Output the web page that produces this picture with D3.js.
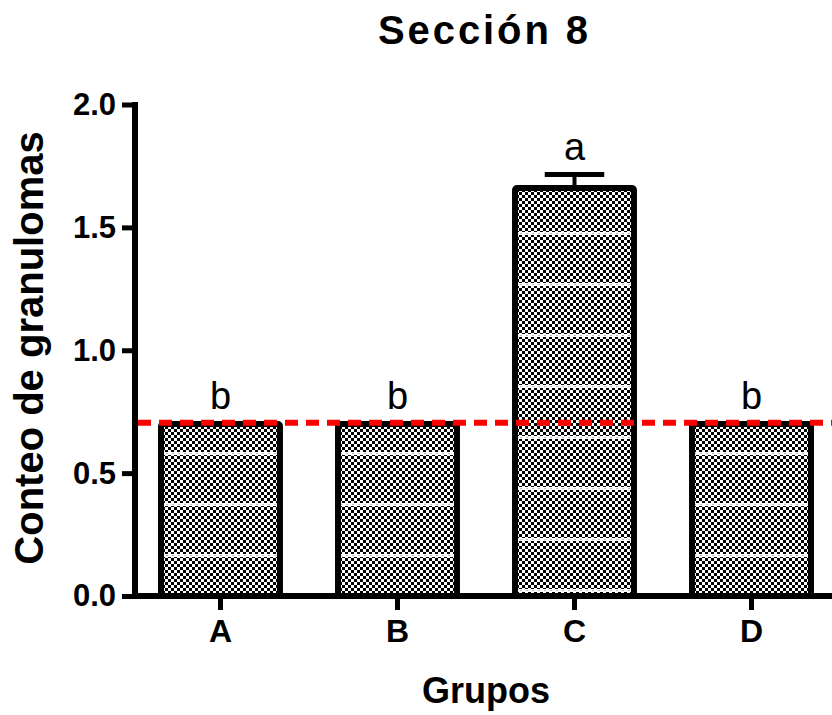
<!DOCTYPE html>
<html>
<head>
<meta charset="utf-8">
<script src="https://cdn.jsdelivr.net/npm/d3@7"></script>
<style>
  html, body { margin: 0; padding: 0; background: #fff; }
  svg { display: block; }
  text { font-family: "Liberation Sans", Arial, sans-serif; fill: #000; }
</style>
</head>
<body>
<svg id="chart" width="832" height="715"></svg>
<script>
// ---- data ----
const groups = ["A", "B", "C", "D"];
const values = [0.70, 0.70, 1.66, 0.70];
const errors = [0, 0, 0.055, 0];
const letters = ["b", "b", "a", "b"];
const yTicks = [0.0, 0.5, 1.0, 1.5, 2.0];
const refLine = [0.705];
const title = ["Sección 8"];
const xLabel = ["Grupos"];
const yLabel = ["Conteo de granulomas"];

// ---- drawing ----
const svg = d3.select("#chart");
const W = 832, H = 715;

const y = d3.scaleLinear().domain([0, 2]).range([596, 104.5]);
const x = d3.scaleBand().domain(groups).range([135, 837])
  .paddingInner(0.328).paddingOuter(0.147);

const defs = svg.append("defs");
// checker pattern
const chk = defs.append("pattern").attr("id", "checker")
  .attr("patternUnits", "userSpaceOnUse").attr("width", 6).attr("height", 6);
chk.append("rect").attr("width", 6).attr("height", 6).attr("fill", "#000");
chk.append("rect").attr("x", 0).attr("y", 0).attr("width", 3).attr("height", 3).attr("fill", "#fff");
chk.append("rect").attr("x", 3).attr("y", 3).attr("width", 3).attr("height", 3).attr("fill", "#fff");

function stripePattern(id, offset) {
  const p = defs.append("pattern").attr("id", id)
    .attr("patternUnits", "userSpaceOnUse").attr("width", 6).attr("height", 51)
    .attr("y", offset);
  p.append("rect").attr("x", 0).attr("y", 0).attr("width", 6).attr("height", 3).attr("fill", "#fff");
  p.append("rect").attr("x", 4).attr("y", 1).attr("width", 2).attr("height", 1).attr("fill", "#bbb");
}
stripePattern("stripesC", 232);
stripePattern("stripesO", 452);

const barG = svg.append("g");
groups.forEach((g, i) => {
  const x0 = x(g), bw = x.bandwidth();
  const y0 = y(values[i]), h = y(0) - y(values[i]);
  barG.append("rect").attr("x", x0).attr("y", y0).attr("width", bw).attr("height", h)
    .attr("fill", "url(#checker)");
  barG.append("rect").attr("x", x0 + 3).attr("y", y0 + 3).attr("width", bw - 6).attr("height", h - 6)
    .attr("fill", g === "C" ? "url(#stripesC)" : "url(#stripesO)");
  barG.append("rect").attr("x", x0).attr("y", y0).attr("width", bw).attr("height", h)
    .attr("fill", "none").attr("stroke", "#000").attr("stroke-width", 6)
    .attr("rx", 2).attr("ry", 2);
});

// error bars
const errG = svg.append("g").attr("stroke", "#000");
groups.forEach((g, i) => {
  if (!errors[i]) return;
  const cx = x(g) + x.bandwidth() / 2;
  const top = y(values[i] + errors[i]);
  errG.append("line").attr("x1", cx).attr("x2", cx)
    .attr("y1", y(values[i])).attr("y2", top).attr("stroke-width", 4);
  errG.append("line").attr("x1", cx - x.bandwidth() / 4).attr("x2", cx + x.bandwidth() / 4)
    .attr("y1", top).attr("y2", top).attr("stroke-width", 5);
});

// significance letters
svg.append("g").selectAll("text").data(groups).join("text")
  .attr("x", g => x(g) + x.bandwidth() / 2)
  .attr("y", (g, i) => y(values[i] + errors[i]) - 15)
  .attr("text-anchor", "middle")
  .style("font-size", "38px")
  .text((g, i) => letters[i]);

// axes
const yAxis = d3.axisLeft(y).tickValues(yTicks).tickFormat(d3.format(".1f"))
  .tickSize(13).tickSizeOuter(0).tickPadding(6);
const yg = svg.append("g").attr("transform", "translate(135,0)").call(yAxis);
yg.select(".domain").attr("stroke-width", 6).attr("d", `M0,${y(2) - 2.5}V${y(0) + 3}`);
yg.selectAll(".tick line").attr("stroke-width", 5);
yg.selectAll(".tick text").style("font-size", "31px").style("font-weight", "bold")
  .attr("font-family", null);

const xAxis = d3.axisBottom(x).tickSize(14).tickSizeOuter(0).tickPadding(6);
const xg = svg.append("g").attr("transform", `translate(0,${y(0)})`).call(xAxis);
xg.select(".domain").attr("stroke-width", 6).attr("d", `M132,0H${W}`);
xg.selectAll(".tick line").attr("stroke-width", 5);
xg.selectAll(".tick text").style("font-size", "32px").style("font-weight", "bold")
  .attr("font-family", null).attr("dy", null).attr("y", 46);

// reference line
svg.append("g").selectAll("line").data(refLine).join("line")
  .attr("x1", 138).attr("x2", W)
  .attr("y1", d => y(d)).attr("y2", d => y(d))
  .attr("stroke", "#ff0000").attr("stroke-width", 6)
  .attr("stroke-dasharray", "13,8");

// titles
svg.append("text").attr("x", 483).attr("y", 44).attr("text-anchor", "middle")
  .style("font-size", "40px").style("font-weight", "bold")
  .attr("textLength", 210).attr("lengthAdjust", "spacing")
  .text(title[0]);
svg.append("text").attr("x", 486).attr("y", 703).attr("text-anchor", "middle")
  .style("font-size", "36px").style("font-weight", "bold")
  .text(xLabel[0]);
svg.append("text").attr("transform", "translate(43,348) rotate(-90)")
  .attr("text-anchor", "middle")
  .style("font-size", "40px").style("font-weight", "bold")
  .text(yLabel[0]);
</script>
</body>
</html>
